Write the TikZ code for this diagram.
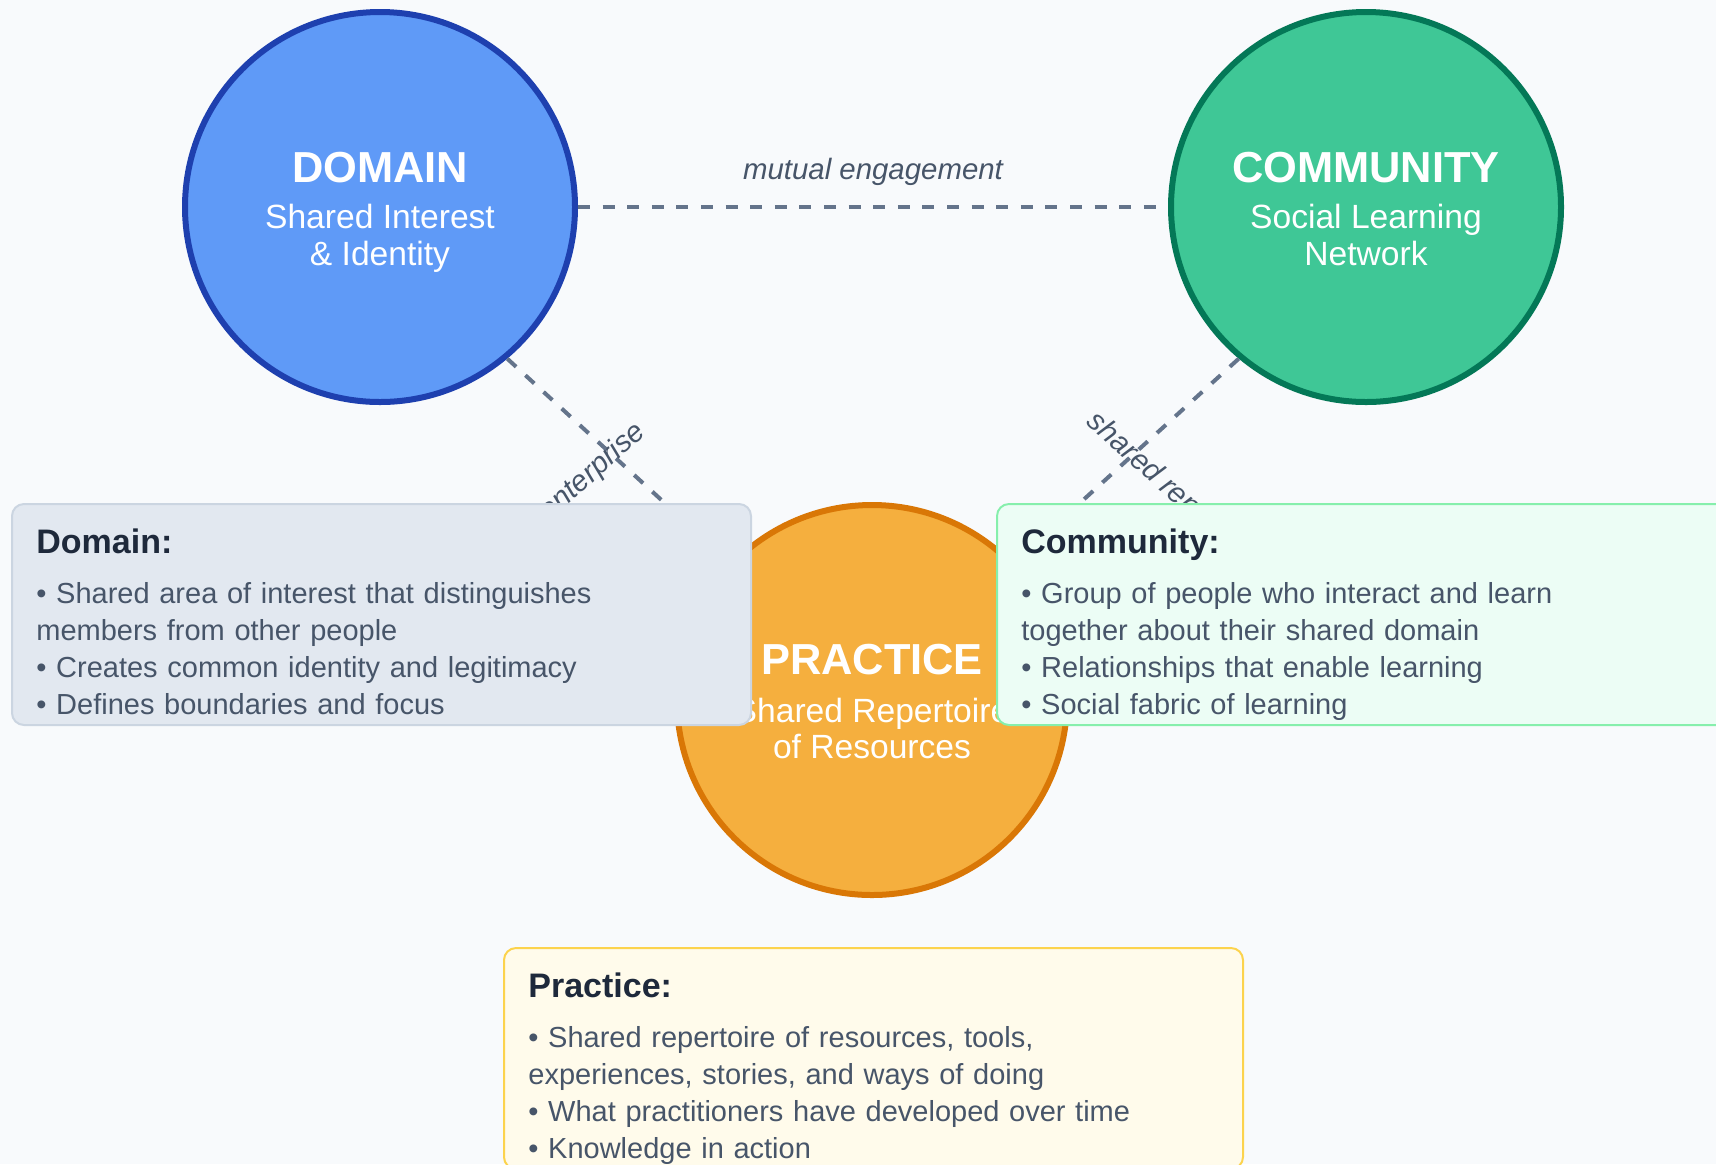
\documentclass[tikz,border=0pt]{standalone}
\usepackage{fontspec}
\setmainfont{Liberation Sans}
\usetikzlibrary{
positioning
}
\definecolor{canvas}{HTML}{F8FAFC}
\definecolor{domainfill}{HTML}{5F9AF7}
\definecolor{domainline}{HTML}{1E40AF}
\definecolor{communityfill}{HTML}{3FC796}
\definecolor{communityline}{HTML}{047857}
\definecolor{practicefill}{HTML}{F5AF3E}
\definecolor{practiceline}{HTML}{D97706}
\definecolor{linkgray}{HTML}{64748B}
\definecolor{labelgray}{HTML}{475569}
\definecolor{headdark}{HTML}{1E293B}
\definecolor{domainbg}{HTML}{E2E8F0}
\definecolor{domainedge}{HTML}{CBD5E1}
\definecolor{communitybg}{HTML}{ECFDF5}
\definecolor{communityedge}{HTML}{86EFAC}
\definecolor{practicebg}{HTML}{FFFBEB}
\definecolor{practiceedge}{HTML}{FCD34D}
\newcommand{\infohead}[1]{{\fontsize{17}{20}\selectfont\bfseries\color{headdark}#1}}

\begin{document}
\begin{tikzpicture}[
x=0.5pt,
y=-0.5pt,
pillar/.style={
circle,
line width=3pt,
minimum size=195pt,
inner sep=0pt
},
pillartitle/.style={anchor=base, text=white, font=\fontsize{21.7}{24}\selectfont\bfseries},
pillarsub/.style={anchor=base, text=white, font=\fontsize{16.8}{18.5}\selectfont},
link/.style={draw=linkgray, line width=2pt, dash pattern=on 6pt off 6.3pt},
linklabel/.style={text=labelgray, inner sep=0pt, font=\fontsize{14.7}{17}\selectfont\itshape},
infobox/.style={
rectangle,
rounded corners=6pt,
line width=1pt,
minimum width=369.5pt,
minimum height=110.5pt,
anchor=north west
},
infotext/.style={
inner sep=0pt,
text width=344.5pt,
align=left,
text=labelgray,
font=\fontsize{14.5}{18.6}\selectfont
}
]

\fill[canvas] (0,0) rectangle (1716,1164);
\useasboundingbox (0,0) rectangle (1716,1164);

% the three circles
\node[pillar, fill=domainfill, draw=domainline] (domain) at (380,207) {};
\node[pillar, fill=communityfill, draw=communityline] (community) at (1366,207) {};
\node[pillar, fill=practicefill, draw=practiceline] (practice) at (872,700) {};

\node[pillartitle] (domaintitle) at (380,182) {DOMAIN};
\node[pillarsub] (domainsub) at (380,228) {Shared Interest};
\node[pillarsub] (domainsubb) at (380,265) {\& Identity};

\node[pillartitle] (communitytitle) at (1366,182) {COMMUNITY};
\node[pillarsub] (communitysub) at (1366,228) {Social Learning};
\node[pillarsub] (communitysubb) at (1366,265) {Network};

\node[pillartitle] (practicetitle) at (872,674) {PRACTICE};
\node[pillarsub] (practicesub) at (872,722) {Shared Repertoire};
\node[pillarsub] (practicesubb) at (872,758) {of Resources};

% dashed links
\draw[link] (domain.east) -- node[linklabel, above=9.5pt] (engagement) {mutual engagement} (community.west);
\draw[link] (domain.-50) -- (practice.136);
\draw[link] (community.-130) -- (practice.44);

\node[linklabel, rotate=42] (enterprise) at (570,493) {joint enterprise};
\node[linklabel, rotate=-42] (repertoire) at (1174,493) {shared repertoire};

% info boxes
\node[infobox, fill=domainbg, draw=domainedge] (domainbox) at (11,503) {};
\node[infotext, below right=12.5pt and 12.5pt of domainbox.north west] (domaintext)
{\infohead{Domain:}\\[6.4pt]
• Shared area of interest that distinguishes\\
members from other people\\
• Creates common identity and legitimacy\\
• Defines boundaries and focus};

\node[infobox, fill=communitybg, draw=communityedge] (communitybox) at (996,503) {};
\node[infotext, below right=12.5pt and 12.5pt of communitybox.north west] (communitytext)
{\infohead{Community:}\\[6.4pt]
• Group of people who interact and learn\\
together about their shared domain\\
• Relationships that enable learning\\
• Social fabric of learning};

\node[infobox, fill=practicebg, draw=practiceedge] (practicebox) at (503,947) {};
\node[infotext, below right=12.5pt and 12.5pt of practicebox.north west] (practicetext)
{\infohead{Practice:}\\[6.4pt]
• Shared repertoire of resources, tools,\\
experiences, stories, and ways of doing\\
• What practitioners have developed over time\\
• Knowledge in action};

\end{tikzpicture}
\end{document}
